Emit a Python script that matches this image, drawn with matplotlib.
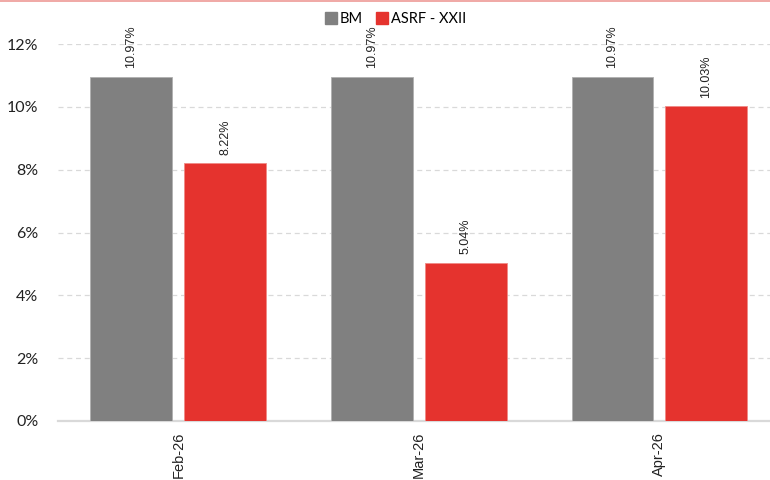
import matplotlib

matplotlib.use("Agg")
import matplotlib.pyplot as plt
import numpy as np
from matplotlib.lines import Line2D
from matplotlib.ticker import FuncFormatter

months = ["Feb-26", "Mar-26", "Apr-26"]
bm = [10.97, 10.97, 10.97]
asrf = [8.22, 5.04, 10.03]
series_names = ["BM", "ASRF - XXII"]

GRAY = "#808080"
RED = "#E5332E"
GRID = "#D9D9D9"
TEXT = "#222222"
CALIBRI_LIKE = ["Lato", "DejaVu Sans"]

fig = plt.figure(figsize=(7.7, 4.8), dpi=100, facecolor="white")
ax = fig.add_axes([0.0753, 0.123, 0.9247, 0.785])

x = np.arange(len(months))
width = 0.34
offset = 0.195
bars_bm = ax.bar(x - offset, bm, width, color=GRAY, edgecolor="#B0B0B0", linewidth=0.6, zorder=3)
bars_asrf = ax.bar(x + offset, asrf, width, color=RED, edgecolor="#F08A86", linewidth=0.6, zorder=3)

for bars, vals in ((bars_bm, bm), (bars_asrf, asrf)):
    for b, v in zip(bars, vals):
        ax.annotate(f"{v:.2f}%", (b.get_x() + b.get_width() / 2, v), xytext=(0, 6),
                    textcoords="offset points", rotation=90, ha="center", va="bottom",
                    fontsize=9, color=TEXT, family="Liberation Sans", annotation_clip=False)

ax.set_xlim(-0.5, 2.46)
ax.set_ylim(0, 12)
ax.set_yticks(np.arange(0, 13, 2))
ax.yaxis.set_major_formatter(FuncFormatter(lambda v, _: f"{v:.0f}%"))
ax.yaxis.grid(True, color=GRID, linestyle=(0, (4, 3)), linewidth=0.9, zorder=0)
ax.set_axisbelow(True)
for side in ("top", "right", "left"):
    ax.spines[side].set_visible(False)
ax.spines["bottom"].set_color(GRID)
ax.spines["bottom"].set_linewidth(1.6)
ax.tick_params(axis="y", length=0, pad=14, labelsize=11.5, labelcolor=TEXT)
for lbl in ax.get_yticklabels():
    lbl.set_family(CALIBRI_LIKE)
ax.set_xticks(x)
ax.set_xticklabels(months, rotation=90, fontsize=10.5, color=TEXT, family="Liberation Sans")
ax.tick_params(axis="x", length=0, pad=8)

handles = [Line2D([], [], marker="s", linestyle="", markersize=8, color=GRAY),
           Line2D([], [], marker="s", linestyle="", markersize=8, color=RED)]
fig.legend(handles, series_names, loc="center", bbox_to_anchor=(0.514, 0.96), ncol=2,
           frameon=False, handletextpad=0.2, columnspacing=0.9, handlelength=0.8,
           prop={"family": CALIBRI_LIKE, "size": 10.5})

fig.add_artist(Line2D([0, 1], [0.998, 0.998], transform=fig.transFigure, color="#EE9A96", linewidth=1.2))

fig.savefig("out.png", dpi=100, facecolor="white")
